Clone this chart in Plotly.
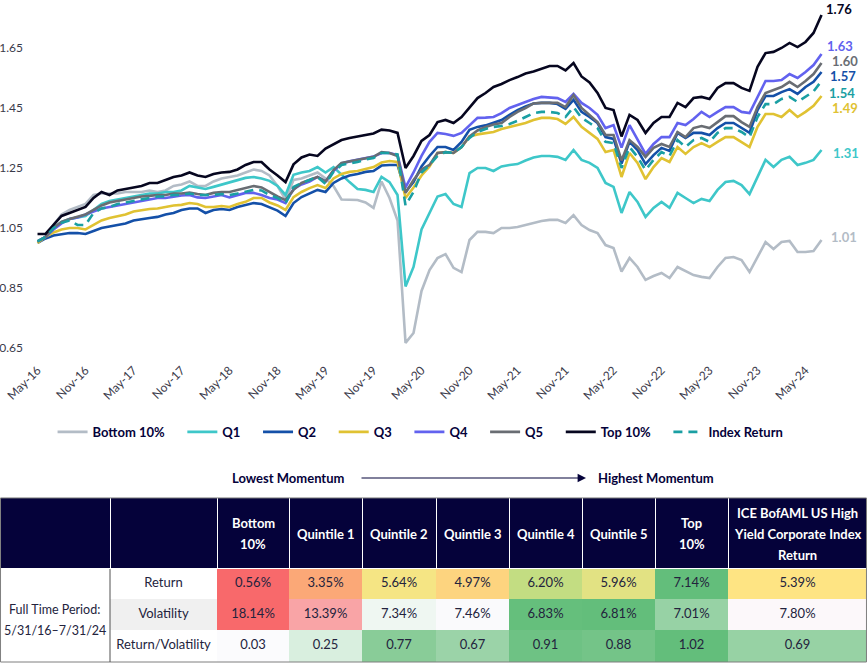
import pandas as pd
import plotly.graph_objects as go

FONT = "Lato"
NAVY = "#05023a"
TEXT = "#23233d"

# month-end growth of $1, May-16 .. Jul-24
months = pd.date_range("2016-05-01", periods=99, freq="MS").strftime("%b-%y").tolist()

bottom10 = [
    1.00, 1.02, 1.06, 1.095, 1.11, 1.12, 1.13, 1.16, 1.165, 1.165,
    1.165, 1.17, 1.17, 1.17, 1.175, 1.17, 1.175, 1.19, 1.195, 1.205,
    1.19, 1.19, 1.205, 1.215, 1.22, 1.225, 1.235, 1.245, 1.24, 1.225,
    1.19, 1.145, 1.21, 1.215, 1.225, 1.235, 1.215, 1.19, 1.145, 1.143,
    1.143, 1.135, 1.117, 1.205, 1.15, 1.075, 0.667, 0.70, 0.84, 0.91,
    0.95, 0.963, 0.917, 0.903, 1.01, 1.037, 1.037, 1.033, 1.05, 1.05,
    1.053, 1.06, 1.067, 1.073, 1.077, 1.077, 1.067, 1.093, 1.06, 1.043,
    1.033, 0.993, 0.983, 0.905, 0.95, 0.92, 0.877, 0.89, 0.90, 0.883,
    0.92, 0.907, 0.893, 0.887, 0.883, 0.92, 0.95, 0.953, 0.943, 0.903,
    0.953, 1.003, 0.98, 1.003, 1.007, 0.97, 0.97, 0.973, 1.01,
]
q1 = [
    1.005, 1.02, 1.05, 1.07, 1.08, 1.085, 1.09, 1.11, 1.13, 1.14,
    1.145, 1.15, 1.155, 1.16, 1.165, 1.165, 1.17, 1.17, 1.175, 1.19,
    1.185, 1.18, 1.187, 1.195, 1.203, 1.21, 1.217, 1.22, 1.215, 1.207,
    1.19, 1.16, 1.227, 1.235, 1.24, 1.253, 1.235, 1.253, 1.227, 1.203,
    1.18, 1.177, 1.17, 1.22, 1.203, 1.16, 0.855, 0.92, 1.045, 1.10,
    1.155, 1.163, 1.13, 1.12, 1.233, 1.25, 1.25, 1.24, 1.255, 1.26,
    1.263, 1.275, 1.285, 1.29, 1.29, 1.287, 1.277, 1.31, 1.277, 1.267,
    1.25, 1.20, 1.187, 1.10, 1.17, 1.137, 1.087, 1.117, 1.137, 1.117,
    1.167, 1.15, 1.133, 1.147, 1.14, 1.177, 1.203, 1.207, 1.193, 1.163,
    1.22, 1.277, 1.253, 1.277, 1.287, 1.26, 1.267, 1.277, 1.31,
]
q2 = [
    1.00, 1.015, 1.025, 1.03, 1.033, 1.033, 1.03, 1.04, 1.05, 1.055,
    1.06, 1.065, 1.075, 1.08, 1.083, 1.087, 1.095, 1.10, 1.11, 1.115,
    1.115, 1.10, 1.11, 1.113, 1.11, 1.12, 1.127, 1.133, 1.13, 1.12,
    1.108, 1.09, 1.133, 1.153, 1.165, 1.177, 1.17, 1.20, 1.215, 1.225,
    1.23, 1.237, 1.24, 1.258, 1.26, 1.26, 1.17, 1.203, 1.255, 1.29,
    1.32, 1.32, 1.31, 1.337, 1.377, 1.387, 1.392, 1.40, 1.41, 1.427,
    1.443, 1.455, 1.465, 1.467, 1.467, 1.463, 1.447, 1.477, 1.437, 1.42,
    1.40, 1.353, 1.347, 1.265, 1.337, 1.31, 1.263, 1.293, 1.317, 1.307,
    1.367, 1.35, 1.367, 1.367, 1.36, 1.383, 1.40, 1.40, 1.383, 1.367,
    1.443, 1.49, 1.49, 1.503, 1.513, 1.497, 1.52, 1.537, 1.57,
]
q3 = [
    1.00, 1.02, 1.035, 1.045, 1.05, 1.05, 1.045, 1.06, 1.075, 1.083,
    1.09, 1.095, 1.105, 1.11, 1.113, 1.115, 1.12, 1.125, 1.127, 1.133,
    1.13, 1.12, 1.12, 1.123, 1.12, 1.13, 1.137, 1.15, 1.15, 1.135,
    1.125, 1.11, 1.153, 1.17, 1.183, 1.193, 1.183, 1.215, 1.23, 1.237,
    1.24, 1.247, 1.253, 1.268, 1.273, 1.27, 1.15, 1.185, 1.225, 1.255,
    1.30, 1.303, 1.30, 1.32, 1.355, 1.362, 1.367, 1.37, 1.38, 1.387,
    1.393, 1.40, 1.41, 1.417, 1.417, 1.413, 1.397, 1.42, 1.387, 1.367,
    1.347, 1.303, 1.31, 1.22, 1.30, 1.267, 1.213, 1.253, 1.283, 1.27,
    1.32, 1.297, 1.32, 1.333, 1.32, 1.337, 1.353, 1.353, 1.337, 1.32,
    1.387, 1.43, 1.43, 1.42, 1.443, 1.42, 1.437, 1.457, 1.49,
]
q4 = [
    1.005, 1.02, 1.045, 1.065, 1.08, 1.085, 1.095, 1.105, 1.115, 1.12,
    1.125, 1.13, 1.135, 1.14, 1.145, 1.15, 1.15, 1.155, 1.158, 1.16,
    1.152, 1.15, 1.155, 1.16, 1.152, 1.16, 1.167, 1.167, 1.16, 1.15,
    1.145, 1.133, 1.18, 1.195, 1.205, 1.22, 1.205, 1.24, 1.265, 1.272,
    1.278, 1.283, 1.288, 1.30, 1.30, 1.293, 1.185, 1.235, 1.29, 1.337,
    1.367, 1.363, 1.357, 1.367, 1.393, 1.417, 1.418, 1.42, 1.433, 1.45,
    1.46, 1.47, 1.48, 1.487, 1.485, 1.483, 1.47, 1.497, 1.467, 1.45,
    1.427, 1.383, 1.393, 1.318, 1.393, 1.343, 1.297, 1.33, 1.353, 1.353,
    1.40, 1.393, 1.413, 1.437, 1.42, 1.437, 1.453, 1.453, 1.437, 1.433,
    1.487, 1.54, 1.54, 1.543, 1.563, 1.55, 1.57, 1.593, 1.63,
]
q5 = [
    1.005, 1.02, 1.05, 1.07, 1.08, 1.087, 1.095, 1.11, 1.125, 1.135,
    1.14, 1.145, 1.15, 1.155, 1.157, 1.16, 1.16, 1.165, 1.165, 1.168,
    1.163, 1.16, 1.167, 1.17, 1.17, 1.177, 1.183, 1.19, 1.185, 1.17,
    1.155, 1.143, 1.177, 1.20, 1.21, 1.22, 1.205, 1.243, 1.267, 1.272,
    1.278, 1.283, 1.287, 1.303, 1.30, 1.29, 1.167, 1.21, 1.245, 1.26,
    1.30, 1.303, 1.30, 1.32, 1.355, 1.375, 1.387, 1.395, 1.40, 1.42,
    1.437, 1.45, 1.465, 1.467, 1.467, 1.467, 1.453, 1.493, 1.45, 1.427,
    1.403, 1.36, 1.36, 1.275, 1.343, 1.32, 1.287, 1.317, 1.33, 1.32,
    1.37, 1.353, 1.383, 1.39, 1.383, 1.403, 1.423, 1.423, 1.403, 1.387,
    1.453, 1.50, 1.51, 1.52, 1.537, 1.52, 1.54, 1.563, 1.60,
]
top10 = [
    1.03, 1.03, 1.06, 1.09, 1.10, 1.11, 1.12, 1.15, 1.17, 1.16,
    1.175, 1.18, 1.185, 1.19, 1.20, 1.20, 1.21, 1.22, 1.225, 1.235,
    1.225, 1.22, 1.23, 1.235, 1.237, 1.245, 1.26, 1.27, 1.27, 1.245,
    1.225, 1.203, 1.262, 1.285, 1.295, 1.29, 1.315, 1.328, 1.343, 1.35,
    1.355, 1.36, 1.365, 1.378, 1.375, 1.367, 1.25, 1.29, 1.34, 1.36,
    1.403, 1.41, 1.40, 1.42, 1.45, 1.483, 1.50, 1.52, 1.53, 1.543,
    1.553, 1.565, 1.572, 1.58, 1.59, 1.59, 1.575, 1.60, 1.555, 1.535,
    1.50, 1.45, 1.443, 1.355, 1.427, 1.41, 1.367, 1.40, 1.42, 1.42,
    1.467, 1.453, 1.483, 1.487, 1.48, 1.517, 1.533, 1.533, 1.517, 1.507,
    1.587, 1.633, 1.637, 1.65, 1.667, 1.653, 1.67, 1.70, 1.76,
]
index_ret = [
    1.005, 1.02, 1.05, 1.067, 1.075, 1.06, 1.06, 1.10, 1.115, 1.12,
    1.13, 1.135, 1.14, 1.145, 1.15, 1.155, 1.155, 1.16, 1.16, 1.165,
    1.16, 1.16, 1.16, 1.163, 1.16, 1.165, 1.17, 1.177, 1.175, 1.16,
    1.15, 1.133, 1.187, 1.20, 1.21, 1.22, 1.197, 1.237, 1.26, 1.265,
    1.27, 1.278, 1.283, 1.30, 1.30, 1.295, 1.125, 1.17, 1.235, 1.26,
    1.29, 1.303, 1.30, 1.32, 1.35, 1.37, 1.38, 1.387, 1.39, 1.397,
    1.407, 1.42, 1.433, 1.437, 1.437, 1.433, 1.42, 1.453, 1.417, 1.40,
    1.383, 1.337, 1.333, 1.25, 1.32, 1.287, 1.243, 1.277, 1.303, 1.29,
    1.343, 1.32, 1.343, 1.35, 1.337, 1.367, 1.383, 1.383, 1.37, 1.353,
    1.42, 1.463, 1.463, 1.48, 1.487, 1.47, 1.487, 1.505, 1.54,
]

y_ticks = [0.65, 0.85, 1.05, 1.25, 1.45, 1.65]

# table data
table_cols = [["Bottom", "10%"], ["Quintile 1"], ["Quintile 2"], ["Quintile 3"], ["Quintile 4"],
              ["Quintile 5"], ["Top", "10%"], ["ICE BofAML US High", "Yield Corporate Index", "Return"]]
row_labels = ["Return", "Volatility", "Return/Volatility"]
period_label = ["Full Time Period:", "5/31/16–7/31/24"]
ret = [0.56, 3.35, 5.64, 4.97, 6.20, 5.96, 7.14, 5.39]
vol = [18.14, 13.39, 7.34, 7.46, 6.83, 6.81, 7.01, 7.80]
ratio = [0.03, 0.25, 0.77, 0.67, 0.91, 0.88, 1.02, 0.69]

ret_colors = ["#f8696b", "#fba877", "#f5e584", "#fdd47f", "#c3dd82", "#e2e283", "#63be7b", "#fee483"]
vol_colors = ["#f8696b", "#f9a4a6", "#eff7f2", "#fafafc", "#65bf7c", "#63be7b", "#97d2a5", "#fcf8fa"]
ratio_colors = ["#fbfbfd", "#d9efdf", "#89cc98", "#9bd3a8", "#6ec284", "#74c488", "#63be7b", "#97d2a4"]

series = [
    ("Bottom 10%", bottom10, "#b3bcc6", "solid"),
    ("Q1", q1, "#3ec7c9", "solid"),
    ("Q2", q2, "#1450a8", "solid"),
    ("Q3", q3, "#e0c232", "solid"),
    ("Q4", q4, "#6262ef", "solid"),
    ("Q5", q5, "#696d73", "solid"),
    ("Top 10%", top10, "#06061f", "solid"),
    ("Index Return", index_ret, "#1a9fa3", "9px,6px"),
]
# end label nudges in px (xshift, yshift)
label_shift = {"Bottom 10%": (7, 3), "Q1": (9, -3), "Q2": (6, -4), "Q3": (8, -12),
               "Q4": (3, 8), "Q5": (8, 2), "Top 10%": (2, 6), "Index Return": (5, -12)}
GAP = "\u00a0" * 4  # wider spacing between legend entries

fig = go.Figure()
for name, vals, color, dash in series:
    fig.add_trace(go.Scatter(x=months, y=vals, mode="lines", name=name + GAP,
                             line=dict(color=color, width=2.6, dash=dash)))

annotations = []
for name, vals, color, dash in series:
    dx, dy = label_shift[name]
    annotations.append(dict(x=months[-1], y=vals[-1], xref="x", yref="y", text=f"{vals[-1]:.2f}",
                            showarrow=False, xanchor="left", yanchor="middle", xshift=dx, yshift=dy,
                            font=dict(family=FONT, size=13, color=color, weight="bold")))

# momentum arrow row
annotations += [
    dict(x=288 / 867, y=0.2823, xref="paper", yref="paper", text="Lowest Momentum", showarrow=False,
         xanchor="center", yanchor="middle", font=dict(family=FONT, size=13, color=NAVY, weight="bold")),
    dict(x=656 / 867, y=0.2823, xref="paper", yref="paper", text="Highest Momentum", showarrow=False,
         xanchor="center", yanchor="middle", font=dict(family=FONT, size=13, color=NAVY, weight="bold")),
    dict(x=586 / 867, y=0.2823, xref="paper", yref="paper", text="", showarrow=True,
         ax=-226, ay=0, arrowhead=2, arrowsize=1.4, arrowwidth=1.2, arrowcolor=NAVY),
]

# table
col_w = [110, 107, 72, 73, 74, 73, 73, 73, 73, 139]
fills = [["white"] * 3, ["white", "#f0f0f0", "white"]]
fills += [[ret_colors[k], vol_colors[k], ratio_colors[k]] for k in range(8)]
cells = [["", "", ""], row_labels]
cells += [[f"{ret[k]:.2f}%", f"{vol[k]:.2f}%", f"{ratio[k]:.2f}"] for k in range(8)]

fig.add_trace(go.Table(
    domain=dict(x=[0, 1], y=[0.003, 0.2523]),
    columnwidth=col_w,
    header=dict(values=[""] * 10, fill_color=NAVY, line=dict(color="white", width=1), height=71),
    cells=dict(values=cells, fill_color=fills, line=dict(color=fills, width=1), height=31,
               align="center", font=dict(family=FONT, size=13, color=TEXT)),
))


def text_lines(lines, cx_px, cy_px, font, spacing=21):
    """one annotation per line so the line spacing matches the original"""
    out = []
    for j, line in enumerate(lines):
        y_px = cy_px + (j - (len(lines) - 1) / 2) * spacing
        out.append(dict(x=cx_px / 867, y=1 - y_px / 666, xref="paper", yref="paper", text=line,
                        showarrow=False, xanchor="center", yanchor="middle", font=font))
    return out


edges = [sum(col_w[:k]) for k in range(len(col_w) + 1)]
head_font = dict(family=FONT, size=13, color="white", weight="bold")
for k, lines in enumerate(table_cols):
    cx = (edges[k + 2] + edges[k + 3]) / 2
    annotations += text_lines(lines, cx, 533.5, head_font)
annotations += text_lines(period_label, 55, 619.5, dict(family=FONT, size=12.5, color=TEXT))

shapes = [
    dict(type="rect", xref="paper", yref="paper", x0=0.0006, x1=0.9994, y0=1 - 662 / 666, y1=0.2523,
         line=dict(color="#7f7f7f", width=1)),
    dict(type="line", xref="paper", yref="paper", x0=110 / 867, x1=110 / 867, y0=1 - 662 / 666,
         y1=1 - 569 / 666, line=dict(color="#505050", width=1)),
]

fig.update_layout(
    width=867, height=666,
    margin=dict(l=0, r=0, t=0, b=0, autoexpand=False),
    paper_bgcolor="white", plot_bgcolor="white",
    hovermode=False,
    legend=dict(orientation="h", x=0.492, xanchor="center", y=0.3514, yanchor="middle",
                font=dict(family=FONT, size=13, color=NAVY, weight="bold")),
    annotations=annotations,
    shapes=shapes,
)
fig.update_xaxes(type="category", domain=[0.0323, 0.9804], range=[-1.19, 101.56], automargin=False,
                 tickvals=months[::6], ticktext=months[::6], tickangle=-45,
                 showgrid=False, zeroline=False, showline=False,
                 tickfont=dict(family=FONT, size=12, color="#3a3a4a"))
fig.update_yaxes(domain=[0.4595, 0.9925], range=[0.61, 1.7933], tickvals=y_ticks, tickformat=".2f",
                 automargin=False, showgrid=False, zeroline=False, showline=False, ticklabelstandoff=4,
                 tickfont=dict(family=FONT, size=12, color="#3a3a4a"))

fig.write_html("out.html", config={"displayModeBar": False},
               post_script="document.body.style.margin='0';")
